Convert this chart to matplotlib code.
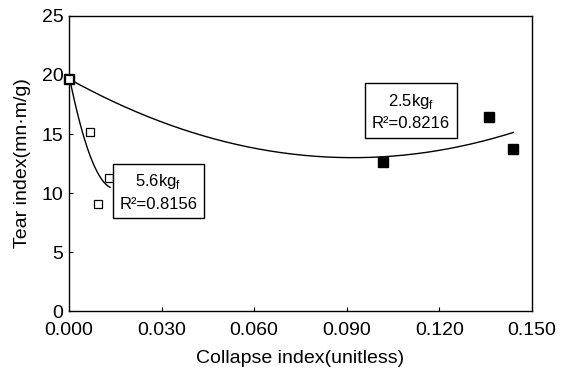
import numpy as np
import matplotlib
matplotlib.use("Agg")
import matplotlib.pyplot as plt

plt.rcParams['font.family'] = ['Liberation Sans', 'DejaVu Sans']

# Data
x_56 = [0.0, 0.0068, 0.0095, 0.0131]
y_56 = [19.7, 15.2, 9.1, 11.3]
x_25 = [0.0, 0.1018, 0.136, 0.144]
y_25 = [19.7, 12.6, 16.4, 13.7]
xticks = [0.000, 0.030, 0.060, 0.090, 0.120, 0.150]
xticklabels = ["0.000", "0.030", "0.060", "0.090", "0.120", "0.150"]
yticks = [0, 5, 10, 15, 20, 25]
label_56 = ["5.6kg$_{\\mathregular{f}}$", "R²=0.8156"]
label_25 = ["2.5kg$_{\\mathregular{f}}$", "R²=0.8216"]

fig = plt.figure(figsize=(5.61, 3.79), dpi=100)
ax = fig.add_axes([0.123, 0.179, 0.825, 0.779])

# trend lines (quadratic fits)
c56 = np.polyfit(x_56, y_56, 2)
xs = np.linspace(0, 0.0133, 100)
ax.plot(xs, np.polyval(c56, xs), color='black', lw=1.0)
c25 = np.polyfit(x_25, y_25, 2)
xs2 = np.linspace(0, 0.144, 200)
ax.plot(xs2, np.polyval(c25, xs2), color='black', lw=1.0)

ax.plot(x_25, y_25, 's', color='black', ms=7, mec='black', mfc='black', zorder=3, clip_on=False)
ax.plot(x_56, y_56, 's', ms=5.5, mec='black', mfc='white', mew=0.9, zorder=4, clip_on=False)

ax.set_xlim(0, 0.150)
ax.set_ylim(0, 25)
ax.set_xticks(xticks)
ax.set_xticklabels(xticklabels)
ax.set_yticks(yticks)
ax.tick_params(direction='in', length=3, labelsize=14, pad=8)
ax.tick_params(axis='y', pad=4)
for s in ax.spines.values():
    s.set_linewidth(1.0)

ax.set_xlabel("Collapse index(unitless)", fontsize=14, labelpad=8)
ax.set_ylabel("Tear index(mn·m/g)", fontsize=14, labelpad=8)

bbox = dict(boxstyle='square,pad=0.4', fc='white', ec='black', lw=1.0)
ax.text(0.029, 10.1, "\n".join(label_56), ha='center', va='center', fontsize=12,
        linespacing=1.45, bbox=bbox, zorder=5)
ax.text(0.1108, 16.9, "\n".join(label_25), ha='center', va='center', fontsize=12,
        linespacing=1.45, bbox=bbox, zorder=5)

fig.savefig("out.png", dpi=100)
